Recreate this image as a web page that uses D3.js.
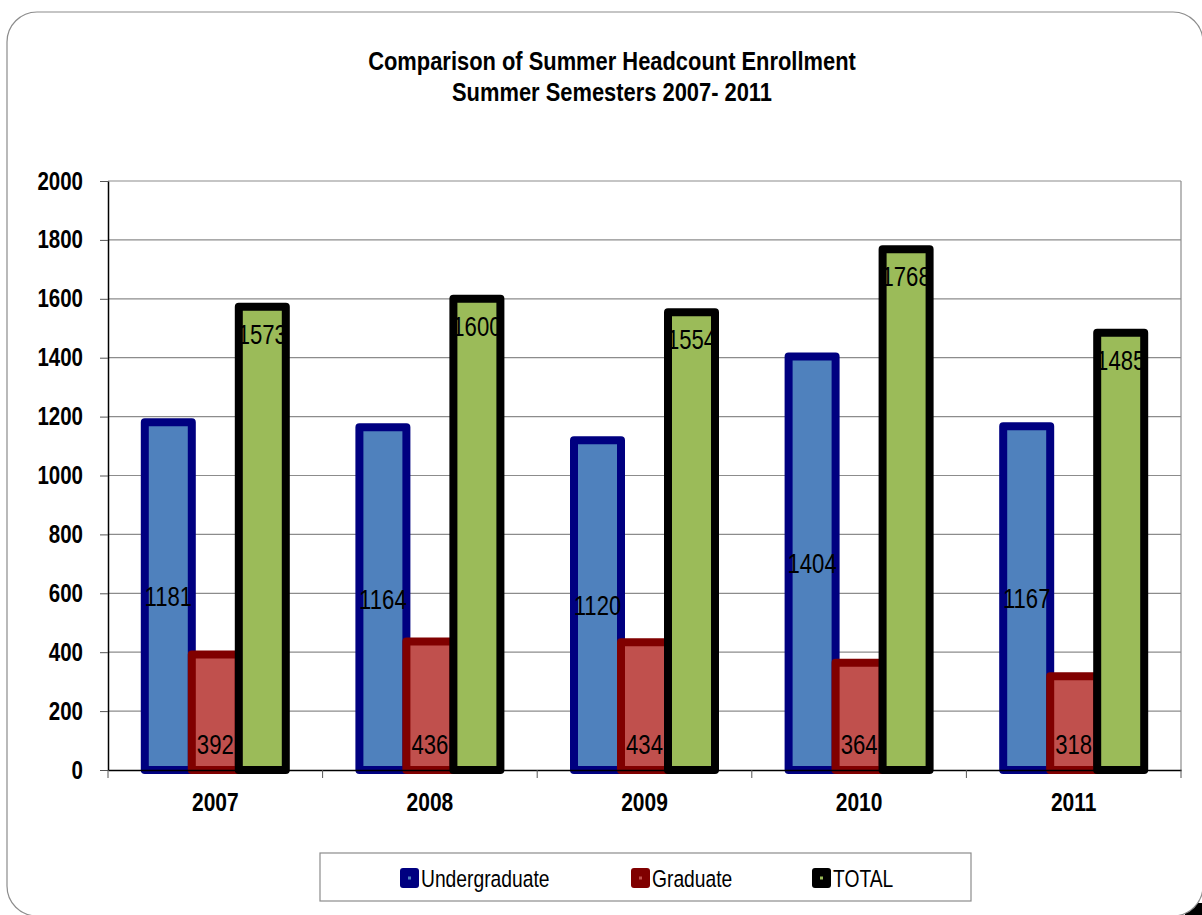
<!DOCTYPE html>
<html>
<head>
<meta charset="utf-8">
<script src="https://cdn.jsdelivr.net/npm/d3@7"></script>
<style>
  html, body { margin: 0; padding: 0; background: #fff; }
  svg { display: block; font-family: "Liberation Sans", Arial, sans-serif; }
</style>
</head>
<body>
<svg id="chart" width="1202" height="915"></svg>
<script>
const categories = ["2007", "2008", "2009", "2010", "2011"];
const seriesNames = ["Undergraduate", "Graduate", "TOTAL"];
const undergraduate = [1181, 1164, 1120, 1404, 1167];
const graduate = [392, 436, 434, 364, 318];
const total = [1573, 1600, 1554, 1768, 1485];
const yTicks = [0, 200, 400, 600, 800, 1000, 1200, 1400, 1600, 1800, 2000];
const titleLines = ["Comparison of Summer Headcount Enrollment", "Summer Semesters 2007- 2011"];

const seriesValues = [undergraduate, graduate, total];
const fills = ["#4F81BD", "#C0504D", "#9BBB59"];
const strokes = ["#000080", "#800000", "#000000"];
const labelPos = ["center", "base", "insideEnd"];
const NARROW = 0.82;

const svg = d3.select("#chart");

function narrowText(parent, x, y, str, size, weight, anchor) {
  return parent.append("text")
    .attr("transform", `translate(${x},${y}) scale(${NARROW},1)`)
    .attr("text-anchor", anchor || "start")
    .attr("font-size", size).attr("font-weight", weight || "normal")
    .attr("fill", "#000").text(str);
}
function narrowAxisText(sel) {
  sel.each(function () {
    const t = d3.select(this);
    const xx = +t.attr("x") || 0, yy = +t.attr("y") || 0;
    t.attr("x", 0).attr("y", 0).attr("transform", `translate(${xx},${yy}) scale(${NARROW},1)`);
  });
}

// outer frame
svg.append("rect").attr("x", 1185).attr("y", 903).attr("width", 17).attr("height", 12).attr("fill", "#000");
svg.append("rect").attr("x", 7).attr("y", 12).attr("width", 1196).attr("height", 904)
  .attr("rx", 30).attr("fill", "#fff").attr("stroke", "#8c8c8c").attr("stroke-width", 1.2);

// title
titleLines.forEach((t, i) => narrowText(svg, 612, 70 + i * 31, t, 26.7, "bold", "middle"));

const pLeft = 108, pRight = 1181, pTop = 181, pBottom = 770;
const x = d3.scaleBand().domain(categories).range([pLeft, pRight]).paddingInner(0).paddingOuter(0);
const y = d3.scaleLinear().domain([0, 2000]).range([pBottom, pTop]);
const inner = d3.scaleBand().domain(seriesNames).range([0, 141]);
const groupOffset = (x.bandwidth() - 141) / 2;

// gridlines
svg.append("g").selectAll("line").data(yTicks.filter(d => d > 0)).join("line")
  .attr("x1", pLeft).attr("x2", pRight)
  .attr("y1", d => y(d)).attr("y2", d => y(d))
  .attr("stroke", "#8c8c8c").attr("stroke-width", 1.2);
svg.append("line").attr("x1", pRight).attr("x2", pRight).attr("y1", pTop).attr("y2", pBottom)
  .attr("stroke", "#8c8c8c").attr("stroke-width", 1.2);

// y axis
const yAxis = svg.append("g").attr("transform", `translate(${pLeft},0)`)
  .call(d3.axisLeft(y).tickValues(yTicks).tickFormat(d3.format("d")).tickSize(8).tickPadding(17).tickSizeOuter(0));
yAxis.select(".domain").attr("stroke", "#000").attr("stroke-width", 1.5);
yAxis.selectAll(".tick line").attr("stroke", "#555");
yAxis.selectAll("text").attr("font-size", 25).attr("font-weight", "bold").attr("fill", "#000")
  .attr("font-family", null).call(narrowAxisText);

// bars
seriesNames.forEach((s, si) => {
  svg.append("g").selectAll("rect").data(categories).join("rect")
    .attr("x", c => x(c) + groupOffset + inner(s))
    .attr("width", inner.bandwidth())
    .attr("y", (c, i) => y(seriesValues[si][i]))
    .attr("height", (c, i) => y(0) - y(seriesValues[si][i]))
    .attr("fill", fills[si]).attr("stroke", strokes[si]).attr("stroke-width", 8)
    .attr("stroke-linejoin", "round");
});

// x axis
const xAxis = svg.append("g").attr("transform", `translate(0,${pBottom})`)
  .call(d3.axisBottom(x).tickSize(0).tickPadding(23));
xAxis.select(".domain").attr("stroke", "#000").attr("stroke-width", 1.5);
xAxis.selectAll("text").attr("font-size", 25.6).attr("font-weight", "bold").attr("fill", "#000")
  .attr("font-family", null).call(narrowAxisText);
svg.append("g").selectAll("line").data(d3.range(categories.length + 1)).join("line")
  .attr("x1", i => pLeft + i * x.bandwidth()).attr("x2", i => pLeft + i * x.bandwidth())
  .attr("y1", pBottom).attr("y2", pBottom + 8).attr("stroke", "#555");

// data labels
seriesNames.forEach((s, si) => {
  const g = svg.append("g");
  categories.forEach((c, i) => {
    const v = seriesValues[si][i];
    const cx = x(c) + groupOffset + inner(s) + inner.bandwidth() / 2;
    let by;
    if (labelPos[si] === "center") by = y(v / 2) + 10;
    else if (labelPos[si] === "base") by = y(0) - 16;
    else by = y(v) + 37;
    narrowText(g, cx, by, v, 27, "normal", "middle");
  });
});

// legend
svg.append("rect").attr("x", 320).attr("y", 853).attr("width", 651).attr("height", 48)
  .attr("fill", "#fff").attr("stroke", "#8c8c8c").attr("stroke-width", 1.2);
const legendX = [400, 631, 812];
seriesNames.forEach((s, si) => {
  const g = svg.append("g").attr("transform", `translate(${legendX[si]},878)`);
  g.append("rect").attr("x", 0).attr("y", -10).attr("width", 19).attr("height", 20).attr("rx", 3)
    .attr("fill", strokes[si]);
  g.append("rect").attr("x", 8).attr("y", -1.5).attr("width", 3).attr("height", 3)
    .attr("fill", fills[si]);
  narrowText(g, 21, 9, s, 23.5, "normal", "start");
});
</script>
</body>
</html>
